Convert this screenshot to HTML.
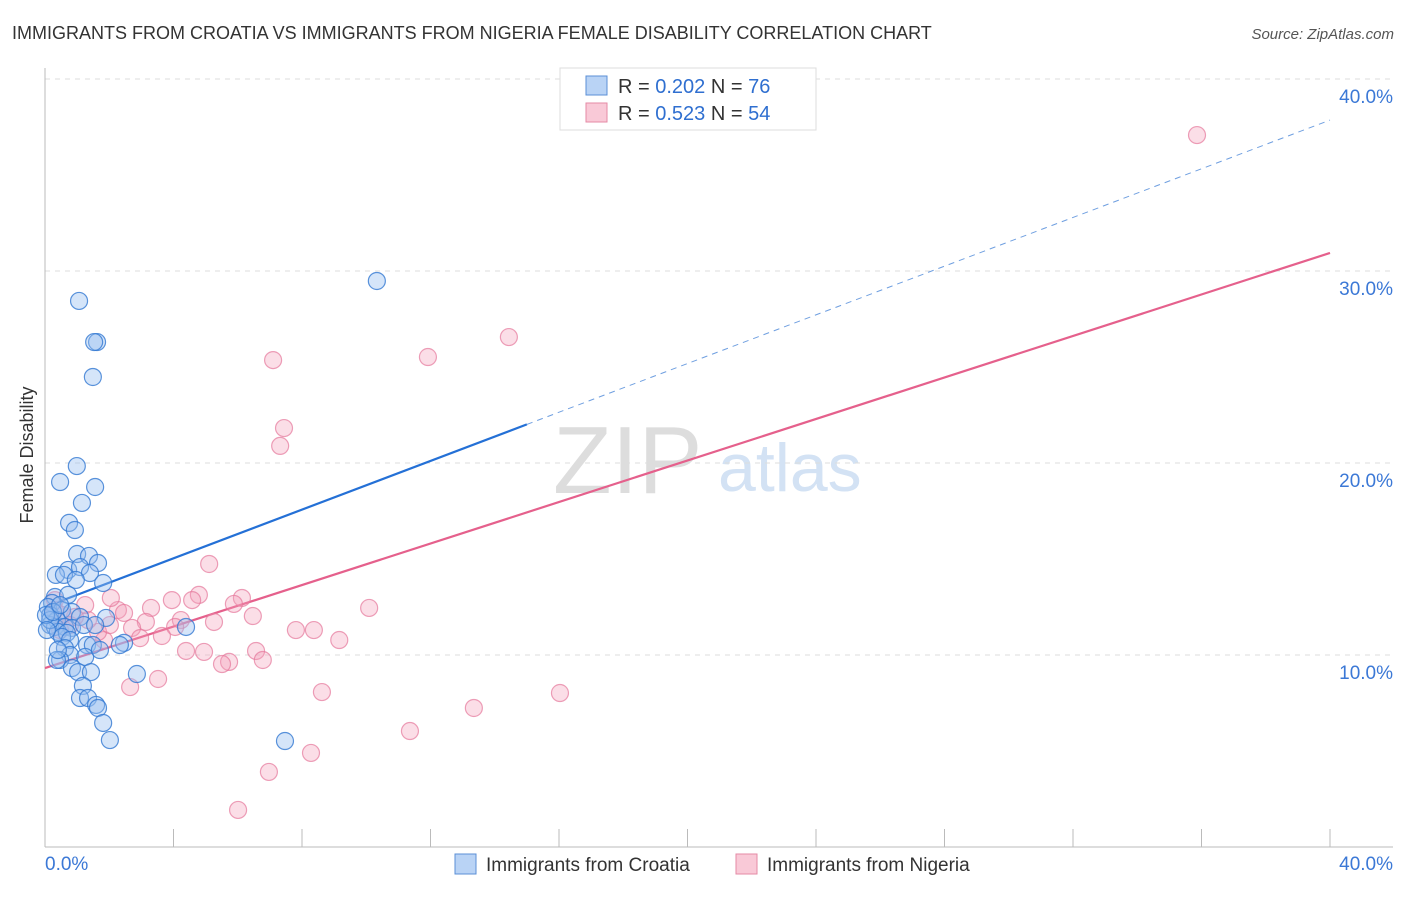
<!DOCTYPE html>
<html><head><meta charset="utf-8"><style>
body{margin:0;background:#fff;font-family:"Liberation Sans",sans-serif}
svg text{font-family:"Liberation Sans",sans-serif}
</style></head><body>
<svg id="chart" width="1406" height="892" xmlns="http://www.w3.org/2000/svg">
<text x="12" y="39" font-size="18" fill="#333">IMMIGRANTS FROM CROATIA VS IMMIGRANTS FROM NIGERIA FEMALE DISABILITY CORRELATION CHART</text>
<text x="1394" y="39" font-size="15" fill="#555" font-style="italic" text-anchor="end">Source: ZipAtlas.com</text>
<text x="33" y="455" font-size="18" fill="#333" text-anchor="middle" transform="rotate(-90 33 455)">Female Disability</text>
<g><text x="553" y="493" font-size="96" font-family="Liberation Serif" fill="#ddd">ZIP</text><text x="718" y="491" font-size="68" fill="#d3e2f4">atlas</text></g>
<g id="grid"></g><g id="axes"></g><g id="lines"></g><g id="pts"></g>
<g>
<rect x="560" y="68" width="256" height="62" fill="#fff" stroke="#ddd"/>
<rect x="586" y="76" width="21" height="19" fill="#b9d3f5" stroke="#5b8fd6"/>
<rect x="586" y="103" width="21" height="19" fill="#f9c9d7" stroke="#e58aa6"/>
<text x="618" y="93" font-size="20" fill="#333">R = <tspan fill="#2f6fd0">0.202</tspan>   N = <tspan fill="#2f6fd0">76</tspan></text>
<text x="618" y="120" font-size="20" fill="#333">R = <tspan fill="#2f6fd0">0.523</tspan>   N = <tspan fill="#2f6fd0">54</tspan></text>
</g>
<g>
<rect x="455" y="854" width="21" height="20" fill="#b9d3f5" stroke="#5b8fd6"/>
<text x="486" y="871" font-size="19" fill="#333">Immigrants from Croatia</text>
<rect x="736" y="854" width="21" height="20" fill="#f9c9d7" stroke="#e58aa6"/>
<text x="767" y="871" font-size="19" fill="#333">Immigrants from Nigeria</text>
</g>
</svg>
<script>
const yTicks=[10,20,30,40];
const yTickLabels=["10.0%","20.0%","30.0%","40.0%"];
const xTicks=[0,4,8,12,16,20,24,28,32,36,40];
const croatiaX=[1.06,10.33,1.62,1.53,1.49,0.99,0.47,1.56,1.15,0.75,0.93,1.0,1.37,1.65,0.72,1.09,1.40,0.34,0.59,0.96,1.81,0.31,0.72,0.22,0.09,0.53,0.16,0.37,0.84,1.09,1.90,0.16,0.31,0.62,0.84,0.40,0.68,1.21,1.56,4.39,0.53,0.78,2.46,2.33,1.31,1.49,0.62,0.78,1.25,0.47,0.37,0.84,1.03,1.43,2.86,1.18,1.09,1.34,1.59,1.65,1.81,2.02,7.47,0.16,0.03,0.25,0.47,0.06,0.40,1.71];
const croatiaY=[28.44,29.48,26.30,26.30,24.48,19.84,19.01,18.75,17.92,16.88,16.51,15.26,15.16,14.79,14.43,14.58,14.27,14.17,14.17,13.91,13.75,13.02,13.13,12.71,12.50,12.34,12.08,11.82,12.24,11.98,11.93,11.56,11.46,11.46,11.41,11.20,11.15,11.56,11.56,11.46,10.94,10.78,10.63,10.52,10.52,10.52,10.36,10.0,9.90,9.74,9.74,9.32,9.11,9.11,9.01,8.39,7.76,7.76,7.40,7.24,6.46,5.57,5.52,11.82,12.08,12.24,12.60,11.30,10.26,10.26];
const nigeriaX=[35.86,14.44,7.10,11.92,7.44,7.32,5.11,6.13,4.79,4.58,3.95,5.88,3.30,2.27,2.46,2.05,6.47,10.09,4.23,3.14,2.71,5.26,4.05,7.81,8.37,9.16,3.64,2.96,1.84,1.65,1.34,0.93,0.56,0.31,0.78,4.39,4.95,6.57,5.73,5.51,6.78,2.65,3.52,8.62,16.03,13.35,11.36,8.28,6.97,6.01,0.31,1.25,0.47,2.02];
const nigeriaY=[37.08,26.56,25.36,25.52,21.82,20.89,14.74,12.97,13.13,12.86,12.86,12.66,12.45,12.34,12.19,12.97,12.03,12.45,11.82,11.72,11.41,11.72,11.46,11.30,11.30,10.78,10.99,10.88,10.78,11.20,11.82,11.98,12.08,12.34,11.56,10.21,10.16,10.21,9.64,9.53,9.74,8.33,8.75,8.07,8.02,7.24,6.04,4.90,3.91,1.93,12.86,12.60,11.30,11.56];
const croatiaTrend=[12.5,37.86]; // y at x=0 and x=40
const nigeriaTrend=[9.32,30.94];
const solidEnd=15; // blue solid up to 15%
const X=v=>45+v*32.125, Y=v=>847-v*19.2;
const NS="http://www.w3.org/2000/svg";
function mk(p,t,a){const e=document.createElementNS(NS,t);for(const k in a)e.setAttribute(k,a[k]);p.appendChild(e);return e;}
const grid=document.getElementById('grid'),axes=document.getElementById('axes'),lines=document.getElementById('lines'),pts=document.getElementById('pts');
yTicks.forEach((t,i)=>{
 const l=mk(grid,'line',{x1:45,x2:1393,y1:Y(t),y2:Y(t),stroke:'#ddd','stroke-dasharray':'5,5'});
 
 
 const tx=mk(grid,'text',{x:1393,y:Y(t)+24,'font-size':19,fill:'#3b78d6','text-anchor':'end'});
 tx.textContent=yTickLabels[i];
 
 
});
const ya=mk(axes,'line',{x1:45,x2:45,y1:68,y2:847,stroke:'#bbb'});


const xa=mk(axes,'line',{x1:45,x2:1393,y1:847,y2:847,stroke:'#bbb'});


xTicks.forEach(t=>{const l=mk(axes,'line',{x1:X(t),x2:X(t),y1:829,y2:847,stroke:'#bbb'});
 
 });
const xl0=mk(axes,'text',{x:45,y:870,'font-size':19,fill:'#3b78d6'});xl0.textContent='0.0%';


const xl1=mk(axes,'text',{x:1393,y:870,'font-size':19,fill:'#3b78d6','text-anchor':'end'});xl1.textContent='40.0%';


function draw(xs,ys,fill,stroke,name){xs.forEach((x,i)=>{const c=mk(pts,'circle',{cx:X(x),cy:Y(ys[i]),r:8.5,fill:fill,stroke:stroke,'stroke-width':1.2});
 
 });}
draw(nigeriaX,nigeriaY,'rgba(244,160,185,0.35)','rgba(230,120,155,0.7)','nigeria-point');
draw(croatiaX,croatiaY,'rgba(150,190,240,0.4)','rgba(50,120,210,0.8)','croatia-point');
const ty=(tr,x)=>tr[0]+(tr[1]-tr[0])*x/40;
const pl=mk(lines,'line',{x1:X(0),y1:Y(ty(nigeriaTrend,0)),x2:X(40),y2:Y(ty(nigeriaTrend,40)),stroke:'#e5608c','stroke-width':2.2});


const bl=mk(lines,'line',{x1:X(0),y1:Y(ty(croatiaTrend,0)),x2:X(solidEnd),y2:Y(ty(croatiaTrend,solidEnd)),stroke:'#2470d6','stroke-width':2.2});


const bd=mk(lines,'line',{x1:X(solidEnd),y1:Y(ty(croatiaTrend,solidEnd)),x2:X(40),y2:Y(ty(croatiaTrend,40)),stroke:'#6f9fe0','stroke-width':1,'stroke-dasharray':'6,5'});


</script>
</body></html>
